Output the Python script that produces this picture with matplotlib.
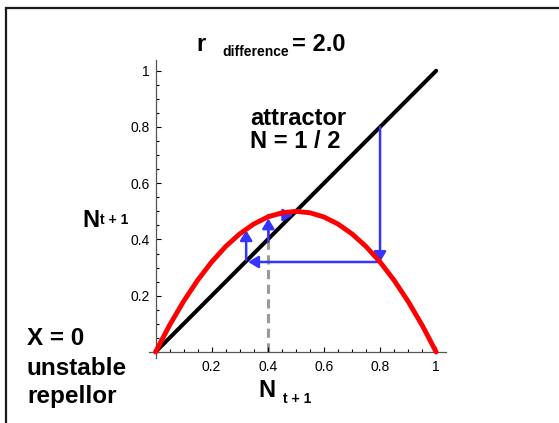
import matplotlib
matplotlib.use("Agg")
import matplotlib.pyplot as plt
from matplotlib.patches import Rectangle
from matplotlib.ticker import MultipleLocator

plt.rcParams['font.family'] = ['Liberation Sans', 'DejaVu Sans']

# data
n_t = [0.0, 0.05, 0.1, 0.15, 0.2, 0.25, 0.3, 0.35, 0.4, 0.45, 0.5,
       0.55, 0.6, 0.65, 0.7, 0.75, 0.8, 0.85, 0.9, 0.95, 1.0]
n_next = [0.0, 0.095, 0.18, 0.255, 0.32, 0.375, 0.42, 0.455, 0.48, 0.495, 0.5,
          0.495, 0.48, 0.455, 0.42, 0.375, 0.32, 0.255, 0.18, 0.095, 0.0]
diag_x = [0.0, 1.0]
diag_y = [0.0, 1.0]
start_x = [0.4, 0.4]
start_y = [0.0, 0.46]
# cobweb arrows: (x0, y0) -> (x1, y1)
arrow_x0 = [0.8, 0.8, 0.323, 0.402, 0.402]
arrow_y0 = [0.8, 0.32, 0.327, 0.392, 0.487]
arrow_x1 = [0.8, 0.33, 0.323, 0.402, 0.491]
arrow_y1 = [0.32, 0.32, 0.433, 0.475, 0.487]
xticks = [0.2, 0.4, 0.6, 0.8, 1.0]
tick_labels = ['0.2', '0.4', '0.6', '0.8', '1']

W, H = 559, 423
def px(x, y):
    return x / W, 1 - y / H

fig = plt.figure(figsize=(W / 100, H / 100), dpi=100)
ax = fig.add_axes([148.5 / W, (H - 357.6) / H, (446 - 148.5) / W, (357.6 - 59.5) / H])
ax.set_xlim(-0.025, 1.035)
ax.set_ylim(-0.02, 1.04)

blue = '#3535ff'
ax.plot(start_x, start_y, color='#9a9a9a', lw=2.2, ls=(0, (3.0, 1.8)), zorder=1)
ax.plot(diag_x, diag_y, color='black', lw=2.9, zorder=2, solid_capstyle='round')
for x0, y0, x1, y1 in zip(arrow_x0, arrow_y0, arrow_x1, arrow_y1):
    ax.annotate('', xy=(x1, y1), xytext=(x0, y0), zorder=3,
                arrowprops=dict(arrowstyle='-|>,head_length=0.5,head_width=0.3',
                                mutation_scale=12, color=blue, lw=1.8,
                                shrinkA=0, shrinkB=0))
ax.plot(n_t, n_next, color='#ff0000', lw=3.5, zorder=4, solid_capstyle='round')

for s in ['top', 'right']:
    ax.spines[s].set_visible(False)
for s in ['left', 'bottom']:
    ax.spines[s].set_position(('data', 0))
    ax.spines[s].set_color('#555555')
    ax.spines[s].set_linewidth(0.9)

ax.set_xticks(xticks)
ax.set_xticklabels(tick_labels)
ax.set_yticks(xticks)
ax.set_yticklabels(tick_labels)
ax.xaxis.set_minor_locator(MultipleLocator(0.05))
ax.yaxis.set_minor_locator(MultipleLocator(0.05))
ax.tick_params(which='major', direction='in', length=3.5, width=0.8, labelsize=10)
ax.tick_params(which='minor', direction='in', length=2, width=0.8)
ax.tick_params(axis='x', which='major', pad=6)
ax.tick_params(axis='y', which='major', pad=4)

# title
fig.text(*px(196, 51), 'r', fontsize=17, fontweight='bold', va='baseline')
fig.text(*px(222, 56), 'difference', fontsize=10, fontweight='bold', va='baseline')
fig.text(*px(292, 51), '= 2.0', fontsize=17, fontweight='bold', va='baseline')

# axis labels
fig.text(*px(82, 227), 'N', fontsize=17, fontweight='bold', va='baseline')
fig.text(*px(100, 224), 't + 1', fontsize=10, fontweight='bold', va='baseline')
fig.text(*px(258, 397), 'N', fontsize=17, fontweight='bold', va='baseline')
fig.text(*px(283, 403), 't + 1', fontsize=10, fontweight='bold', va='baseline')

# annotations
fig.text(*px(250, 125), 'attractor', fontsize=17, fontweight='bold', va='baseline')
fig.text(*px(250, 148), 'N = 1 / 2', fontsize=17, fontweight='bold', va='baseline')
fig.text(*px(27, 345), 'X = 0', fontsize=17.5, fontweight='bold', va='baseline')
fig.text(*px(27, 375), 'unstable', fontsize=17.5, fontweight='bold', va='baseline')
fig.text(*px(27, 403), 'repellor', fontsize=17.5, fontweight='bold', va='baseline')

# frame around the figure (only top and left visible)
fig.patches.append(Rectangle(px(5.5, 440), 1.2, (440 - 8) / H, transform=fig.transFigure,
                             fill=False, lw=1.6, ec='#1a1a1a'))

fig.savefig('out.png', dpi=100)
